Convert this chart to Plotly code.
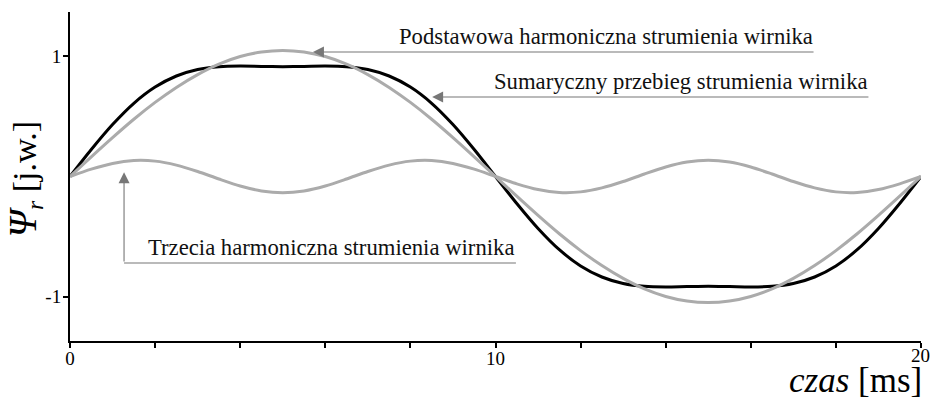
import plotly.graph_objects as go

czas_ms = [0, 0.5, 1, 1.5, 2, 2.5, 3, 3.5, 4, 4.5, 5, 5.5, 6, 6.5, 7, 7.5, 8, 8.5, 9, 9.5,
           10, 10.5, 11, 11.5, 12, 12.5, 13, 13.5, 14, 14.5, 15, 15.5, 16, 16.5, 17, 17.5,
           18, 18.5, 19, 19.5, 20]

podstawowa = [0, 0.164, 0.324, 0.477, 0.617, 0.742, 0.849, 0.936, 0.999, 1.037, 1.05,
              1.037, 0.999, 0.936, 0.849, 0.742, 0.617, 0.477, 0.324, 0.164, 0,
              -0.164, -0.324, -0.477, -0.617, -0.742, -0.849, -0.936, -0.999, -1.037, -1.05,
              -1.037, -0.999, -0.936, -0.849, -0.742, -0.617, -0.477, -0.324, -0.164, 0]

trzecia = [0, 0.061, 0.109, 0.133, 0.128, 0.095, 0.042, -0.021, -0.079, -0.120, -0.135,
           -0.120, -0.079, -0.021, 0.042, 0.095, 0.128, 0.133, 0.109, 0.061, 0,
           -0.061, -0.109, -0.133, -0.128, -0.095, -0.042, 0.021, 0.079, 0.120, 0.135,
           0.120, 0.079, 0.021, -0.042, -0.095, -0.128, -0.133, -0.109, -0.061, 0]

sumaryczny = [0, 0.225, 0.433, 0.610, 0.745, 0.837, 0.891, 0.915, 0.920, 0.917, 0.915,
              0.917, 0.920, 0.915, 0.891, 0.837, 0.745, 0.610, 0.433, 0.225, 0,
              -0.225, -0.433, -0.610, -0.745, -0.837, -0.891, -0.915, -0.920, -0.917, -0.915,
              -0.917, -0.920, -0.915, -0.891, -0.837, -0.745, -0.610, -0.433, -0.225, 0]

x_tickvals = [0, 2, 4, 6, 8, 10, 12, 14, 16, 18, 20]
x_ticktext = ["0", "", "", "", "", "10", "", "", "", "", ""]
x_last_label = "20"
y_tickvals = [-1, 1]
y_ticktext = ["-1", "1"]

labels = {
    "podst": "Podstawowa harmoniczna strumienia wirnika",
    "sum": "Sumaryczny przebieg strumienia wirnika",
    "trz": "Trzecia harmoniczna strumienia wirnika",
}

SERIF = "Liberation Serif, Times New Roman, serif"
GRAY = "#ababab"
ARROW = "#777777"
TXT = 22.7

fig = go.Figure()
fig.add_trace(go.Scatter(x=czas_ms, y=sumaryczny, mode="lines",
                         line=dict(color="black", width=3, shape="spline", smoothing=0.8),
                         hoverinfo="skip"))
fig.add_trace(go.Scatter(x=czas_ms, y=podstawowa, mode="lines",
                         line=dict(color=GRAY, width=3, shape="spline", smoothing=0.8),
                         hoverinfo="skip"))
fig.add_trace(go.Scatter(x=czas_ms, y=trzecia, mode="lines",
                         line=dict(color=GRAY, width=3, shape="spline", smoothing=0.8),
                         hoverinfo="skip"))

ann = []
# fundamental
ann.append(dict(x=5.71, y=1.037, ax=17.51, ay=1.037, xref="x", yref="y", axref="x", ayref="y",
                text="", showarrow=True, arrowhead=2, arrowsize=2, arrowwidth=1.1,
                arrowcolor=ARROW, standoff=0))
ann.append(dict(x=17.51, y=1.037, xref="x", yref="y", xanchor="right", yanchor="bottom",
                text=labels["podst"], showarrow=False, yshift=1,
                font=dict(family=SERIF, size=TXT, color="#111")))
# sum
ann.append(dict(x=8.51, y=0.662, ax=18.80, ay=0.662, xref="x", yref="y", axref="x", ayref="y",
                text="", showarrow=True, arrowhead=2, arrowsize=2, arrowwidth=1.1,
                arrowcolor=ARROW, standoff=0))
ann.append(dict(x=18.80, y=0.662, xref="x", yref="y", xanchor="right", yanchor="bottom",
                text=labels["sum"], showarrow=False, yshift=1,
                font=dict(family=SERIF, size=TXT, color="#111")))
# third
ann.append(dict(x=1.27, y=0.035, ax=1.27, ay=-0.72, xref="x", yref="y", axref="x", ayref="y",
                text="", showarrow=True, arrowhead=2, arrowsize=2, arrowwidth=1.1,
                arrowcolor=ARROW, standoff=0))
ann.append(dict(x=10.48, y=-0.72, xref="x", yref="y", xanchor="right", yanchor="bottom",
                text=labels["trz"], showarrow=False, yshift=1,
                font=dict(family=SERIF, size=TXT, color="#111")))

# last x tick label (sits a little higher than the others in the reference)
ann.append(dict(x=20, y=0, xref="x", yref="paper", xanchor="center", yanchor="top",
                xshift=-1, yshift=-2, showarrow=False, text=x_last_label,
                font=dict(family=SERIF, size=19, color="black")))

# axis titles
ann.append(dict(x=0.0, y=0.5, xref="paper", yref="paper", xanchor="center", yanchor="middle",
                xshift=-46, yshift=-3, textangle=-90, showarrow=False,
                text="<i><span style='font-size:39px'>Ψ</span><sub>r</sub></i> [j.w.]",
                font=dict(family=SERIF, size=34, color="black")))
ann.append(dict(x=1.0, y=0.0, xref="paper", yref="paper", xanchor="right", yanchor="top",
                yshift=-18, xshift=3, showarrow=False,
                text="<i>czas</i> [ms]",
                font=dict(family=SERIF, size=35, color="black")))

fig.update_layout(
    width=931, height=401,
    margin=dict(l=70, r=10, t=12, b=60, autoexpand=False),
    paper_bgcolor="white", plot_bgcolor="white",
    showlegend=False,
    hovermode=False,
    annotations=ann,
    shapes=[dict(type="line", xref="x", yref="y", x0=1.27, y0=-0.72, x1=10.48, y1=-0.72,
                 line=dict(color=ARROW, width=1.1))],
    xaxis=dict(range=[0, 20], showgrid=False, zeroline=False, showline=True, automargin=False,
               linecolor="black", linewidth=2, ticks="outside", ticklen=5, tickwidth=2,
               tickcolor="black", tickvals=x_tickvals, ticktext=x_ticktext,
               ticklabelstandoff=-6,
               tickfont=dict(family=SERIF, size=19, color="black")),
    yaxis=dict(range=[-1.37, 1.37], showgrid=False, zeroline=False, showline=True, automargin=False,
               linecolor="black", linewidth=2, ticks="outside", ticklen=5, tickwidth=2,
               tickcolor="black", tickvals=y_tickvals, ticktext=y_ticktext,
               ticklabelstandoff=-2,
               tickfont=dict(family=SERIF, size=19, color="black")),
)

fig.write_html(
    "out.html",
    config={"displayModeBar": False},
    post_script="document.documentElement.style.overflow='hidden';"
                "document.body.style.margin='0px';document.body.style.overflow='hidden';",
)
